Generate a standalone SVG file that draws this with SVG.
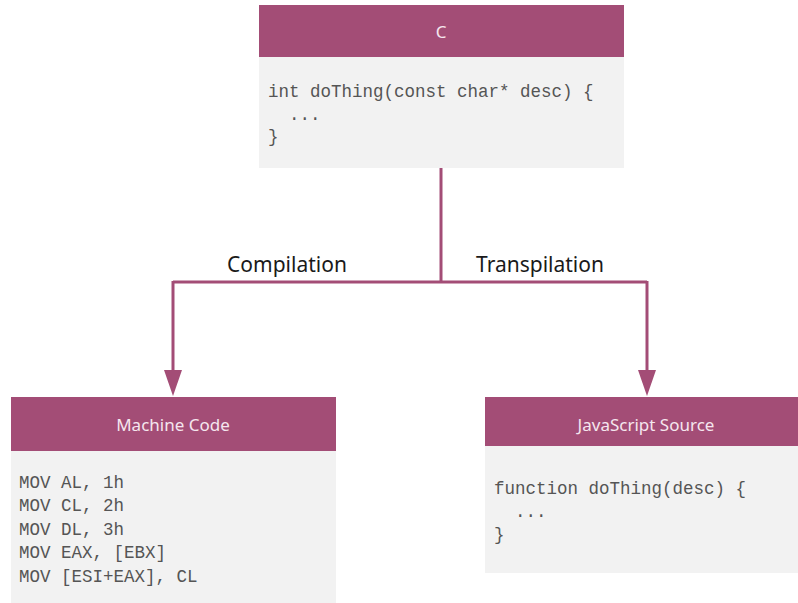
<svg xmlns="http://www.w3.org/2000/svg" width="798" height="603" viewBox="0 0 798 603">
<defs>
<style>
.hdr{fill:#a34d76}
.body{fill:#f2f2f2}
.title{font-family:"Noto Sans","Open Sans",sans-serif;font-size:17px;fill:#f5e6ee;text-anchor:middle}
.code{font-family:"Liberation Mono","Courier New",monospace;font-size:17.5px;fill:#555555;white-space:pre}
.lbl{font-family:"Noto Sans","Open Sans",sans-serif;font-size:21px;fill:#1a1a1a;text-anchor:middle}
.wire{fill:none;stroke:#a34d76;stroke-width:3}
.head{fill:#a34d76}
</style>
</defs>
<g id="connectors">
<path class="wire" d="M441,168 V282"/>
<path class="wire" d="M173,282 H647"/>
<path class="wire" d="M173,281 V372"/>
<path class="head" d="M164,370 L182,370 L173,396 Z"/>
<path class="wire" d="M647,281 V372"/>
<path class="head" d="M638,370 L656,370 L647,396 Z"/>
<text class="lbl" x="287" y="272">Compilation</text>
<text class="lbl" x="540" y="272">Transpilation</text>
</g>
<g id="node-c">
<rect class="body" x="259" y="57" width="365" height="111"/>
<rect class="hdr" x="259" y="5" width="365" height="52"/>
<text class="title" x="441" y="38">C</text>
<text class="code" x="268" y="97">int doThing(const char* desc) {</text>
<text class="code" x="289" y="120">...</text>
<text class="code" x="268" y="142">}</text>
</g>
<g id="node-machine">
<rect class="body" x="11" y="451" width="325" height="152"/>
<rect class="hdr" x="11" y="397" width="325" height="54"/>
<text class="title" x="173" y="431">Machine Code</text>
<text class="code" x="19" y="488">MOV AL, 1h</text>
<text class="code" x="19" y="511">MOV CL, 2h</text>
<text class="code" x="19" y="535">MOV DL, 3h</text>
<text class="code" x="19" y="558">MOV EAX, [EBX]</text>
<text class="code" x="19" y="582">MOV [ESI+EAX], CL</text>
</g>
<g id="node-js">
<rect class="body" x="485" y="446" width="313" height="127"/>
<rect class="hdr" x="485" y="397" width="313" height="49"/>
<text class="title" x="646" y="431">JavaScript Source</text>
<text class="code" x="494" y="494">function doThing(desc) {</text>
<text class="code" x="515" y="517">...</text>
<text class="code" x="494" y="540">}</text>
</g>
</svg>
